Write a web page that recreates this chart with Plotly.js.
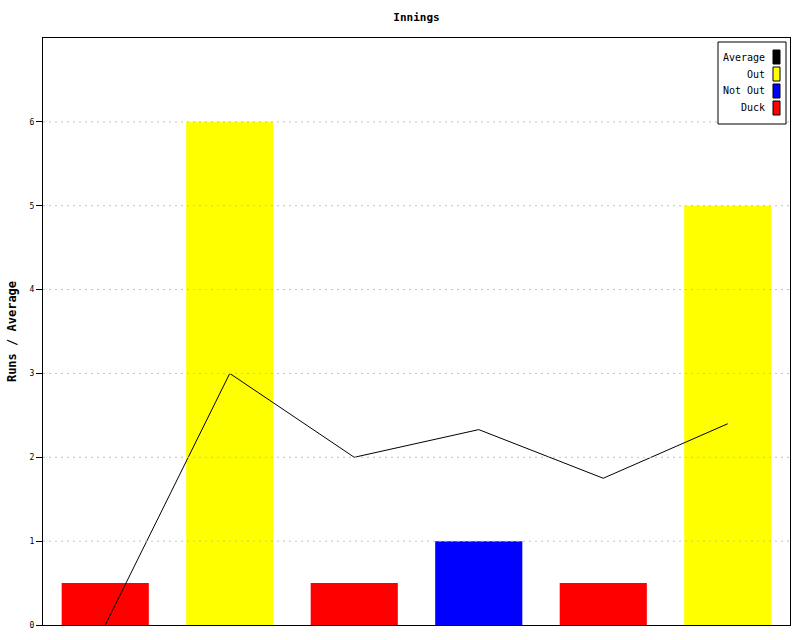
<!DOCTYPE html>
<html>
<head>
<meta charset="utf-8">
<script src="https://cdn.plot.ly/plotly-3.0.1.min.js"></script>
<style>html,body{margin:0;padding:0;background:#fff;}#chart{width:800px;height:640px;}</style>
</head>
<body>
<div id="chart"></div>
<script>
// ---- data ----
const innings = [1, 2, 3, 4, 5, 6];
const barHeights = [0.5, 6, 0.5, 1, 0.5, 5];          // ducks are drawn at 0.5
const status = ['Duck', 'Out', 'Duck', 'Not Out', 'Duck', 'Out'];
const average = [0, 3, 2, 2.33, 1.75, 2.4];
const yTicks = [0, 1, 2, 3, 4, 5, 6];
const legendLabels = ['Average', 'Out', 'Not Out', 'Duck'];
const statusColors = {'Average': '#000000', 'Out': '#ffff00', 'Not Out': '#0000ff', 'Duck': '#ff0000'};

const FONT = 'DejaVu Sans Mono, Liberation Mono, monospace';

const bars = {
  type: 'bar',
  x: innings,
  y: barHeights,
  width: 0.7,
  marker: {color: status.map(s => statusColors[s]), line: {width: 0}},
  showlegend: false,
  hoverinfo: 'skip'
};
const line = {
  type: 'scatter',
  mode: 'lines',
  x: innings,
  y: average,
  line: {color: '#000000', width: 1},
  showlegend: false,
  hoverinfo: 'skip'
};

// grid lines drawn above the bars, as in the reference
const shapes = yTicks.filter(v => v > 0).map(v => ({
  type: 'line', xref: 'paper', yref: 'y', x0: 0, x1: 1, y0: v, y1: v,
  line: {color: '#c0c0c0', width: 1, dash: '2px,4px'}, layer: 'above'
}));

// custom legend (label on the left, swatch on the right)
const W = 800, H = 640, L = 43, R = 10, T = 38, B = 15;
const pw = W - L - R, ph = H - T - B;
const px = x => (x - L) / pw;
const py = y => (H - B - y) / ph;
shapes.push({type: 'rect', xref: 'paper', yref: 'paper', x0: px(718), x1: px(786), y0: py(124), y1: py(42),
  line: {color: '#000', width: 1}, fillcolor: '#ffffff', layer: 'above'});
const annotations = [];
legendLabels.forEach((lab, i) => {
  const yc = 57 + i * 17;
  shapes.push({type: 'rect', xref: 'paper', yref: 'paper', x0: px(773), x1: px(780), y0: py(yc + 7), y1: py(yc - 7),
    line: {color: '#000', width: 1}, fillcolor: statusColors[lab], layer: 'above'});
  annotations.push({xref: 'paper', yref: 'paper', x: px(767), y: py(yc), xanchor: 'right', yanchor: 'middle',
    text: lab, showarrow: false, font: {family: FONT, size: 10, color: '#000'}});
});

const layout = {
  width: W, height: H,
  margin: {l: L, r: R, t: T, b: B, pad: 0},
  paper_bgcolor: '#ffffff', plot_bgcolor: '#ffffff',
  title: {text: '<b>Innings</b>', font: {family: FONT, size: 11, color: '#000'},
    x: 0.5, xref: 'paper', y: 1 - 17 / H, yanchor: 'middle'},
  xaxis: {range: [0.5, 6.5], showticklabels: false, ticks: '', showgrid: false, zeroline: false,
    showline: true, linecolor: '#000', linewidth: 1, mirror: true, fixedrange: true},
  yaxis: {range: [0, 7], tickvals: yTicks, ticktext: yTicks.map(String), ticks: 'outside', ticklen: 6,
    tickcolor: '#000', tickfont: {family: FONT, size: 8, color: '#000'}, showgrid: false, zeroline: false,
    showline: true, linecolor: '#000', linewidth: 1, mirror: true,
    title: {text: '<b>Runs / Average</b>', font: {family: FONT, size: 12, color: '#000'}, standoff: 10}},
  shapes: shapes,
  annotations: annotations,
  showlegend: false
};

Plotly.newPlot('chart', [bars, line], layout, {staticPlot: true, displayModeBar: false});
</script>
</body>
</html>
